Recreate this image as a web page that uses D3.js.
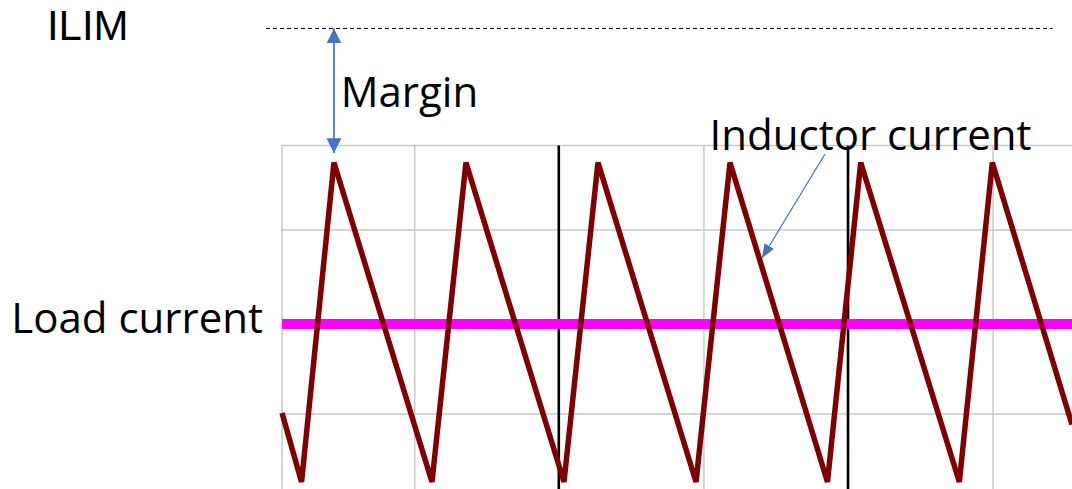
<!DOCTYPE html>
<html>
<head>
<meta charset="utf-8">
<script src="https://cdn.jsdelivr.net/npm/d3@7"></script>
<style>
  html, body { margin: 0; padding: 0; background: #fff; }
  svg { display: block; }
  text { font-family: "Open Sans", "Noto Sans", sans-serif; fill: #000; }
</style>
</head>
<body>
<svg id="chart" width="1072" height="489"></svg>
<script>
// ---- data (time in switching-grid units, current in grid units) ----
const timeGrid = [1, 2, 3, 4, 5];          // vertical gray gridlines
const currentGrid = [0, 1, 2];             // horizontal gray gridlines
const clockMarks = [2, 4];                 // black vertical markers
const plotTime = [0.086, 5.549];           // visible time range
const plotCurrent = [-0.826, 2.913];       // visible current range

const inductorTime = [0.086, 0.221, 0.445, 1.123, 1.358, 2.036, 2.271, 2.949, 3.184, 3.858, 4.088, 4.770, 4.998, 5.549];
const inductorCurrent = [0.005, -0.745, 2.728, -0.745, 2.728, -0.745, 2.728, -0.745, 2.728, -0.745, 2.728, -0.745, 2.728, -0.12];

const loadCurrent = 0.973;
const ilim = 4.185;
const ilimTime = [-0.025, 5.415];
const marginArrow = { t: 0.445, from: 4.185, to: 2.83 };
const inductorPointer = { t1: 3.841, v1: 2.821, t2: 3.405, v2: 1.69 };

const labelTexts = ["ILIM", "Margin", "Inductor current", "Load current"];
const labelTime = [-1.540, 0.492, 3.043, -1.786];
const labelCurrent = [4.06, 3.33, 2.865, 0.875];

// ---- drawing ----
(function () {
const svg = d3.select("#chart");
const x = d3.scaleLinear().domain([0, 1]).range([269.6, 414.2]);
const y = d3.scaleLinear().domain([0, 1]).range([413.5, 321.5]);

const pLeft = x(plotTime[0]), pRight = x(plotTime[1]);
const pTop = y(plotCurrent[1]), pBottom = y(plotCurrent[0]);

const defs = svg.append("defs");
function arrowMarker(id, w, h) {
  defs.append("marker")
    .attr("id", id)
    .attr("markerUnits", "userSpaceOnUse")
    .attr("viewBox", `0 ${-w/2} ${h} ${w}`)
    .attr("refX", h).attr("refY", 0)
    .attr("markerWidth", h).attr("markerHeight", w)
    .attr("orient", "auto-start-reverse")
    .append("path")
    .attr("d", `M0,${-w/2}L${h},0L0,${w/2}Z`)
    .attr("fill", "#4472C4");
}
arrowMarker("arrowBig", 15, 15);
arrowMarker("arrowSmall", 11, 14);

// gridlines via axes
const gx = svg.append("g")
  .attr("transform", `translate(0,${pBottom})`)
  .call(d3.axisBottom(x).tickValues(timeGrid).tickSize(-(pBottom - pTop)).tickFormat(""));
gx.select(".domain").remove();
gx.selectAll("line").attr("stroke", "#c9c9c9").attr("stroke-width", 1.5);

const gy = svg.append("g")
  .attr("transform", `translate(${pLeft},0)`)
  .call(d3.axisLeft(y).tickValues(currentGrid).tickSize(-(pRight - pLeft)).tickFormat(""));
gy.select(".domain").remove();
gy.selectAll("line").attr("stroke", "#c9c9c9").attr("stroke-width", 1.5);

// plot border (top + left)
svg.append("path")
  .attr("d", `M${pLeft},${pBottom}L${pLeft},${pTop}L${pRight},${pTop}`)
  .attr("fill", "none").attr("stroke", "#c9c9c9").attr("stroke-width", 1.5);

// black clock markers
svg.selectAll(".clock").data(clockMarks).enter().append("line")
  .attr("x1", d => x(d)).attr("x2", d => x(d))
  .attr("y1", pTop).attr("y2", pBottom)
  .attr("stroke", "#000").attr("stroke-width", 2.6);

// load current
svg.append("line")
  .attr("x1", pLeft).attr("x2", pRight)
  .attr("y1", y(loadCurrent)).attr("y2", y(loadCurrent))
  .attr("stroke", "#ff00ff").attr("stroke-width", 10);

// inductor current
const series = inductorTime.map((t, i) => [t, inductorCurrent[i]]);
svg.append("path")
  .datum(series)
  .attr("d", d3.line().x(d => x(d[0])).y(d => y(d[1])))
  .attr("fill", "none")
  .attr("stroke", "#800000")
  .attr("stroke-width", 5.5)
  .attr("stroke-linejoin", "miter")
  .attr("stroke-miterlimit", 4);

// ILIM dashed line
svg.append("line")
  .attr("x1", x(ilimTime[0])).attr("x2", x(ilimTime[1]))
  .attr("y1", y(ilim)).attr("y2", y(ilim))
  .attr("stroke", "#000").attr("stroke-width", 1)
  .attr("stroke-dasharray", "4,3");

// margin arrow
svg.append("line")
  .attr("x1", x(marginArrow.t)).attr("x2", x(marginArrow.t))
  .attr("y1", y(marginArrow.from)).attr("y2", y(marginArrow.to))
  .attr("stroke", "#4472C4").attr("stroke-width", 1.7)
  .attr("marker-start", "url(#arrowBig)")
  .attr("marker-end", "url(#arrowBig)");

// inductor pointer
svg.append("line")
  .attr("x1", x(inductorPointer.t1)).attr("y1", y(inductorPointer.v1))
  .attr("x2", x(inductorPointer.t2)).attr("y2", y(inductorPointer.v2))
  .attr("stroke", "#4472C4").attr("stroke-width", 1.2)
  .attr("marker-end", "url(#arrowSmall)");

// labels
svg.selectAll(".lbl").data(labelTexts).enter().append("text")
  .attr("x", (d, i) => x(labelTime[i])).attr("y", (d, i) => y(labelCurrent[i]))
  .attr("font-size", 42)
  .style("font-family", (d, i) => i === 0 ? "'Liberation Sans', Arial, sans-serif" : null)
  .text(d => d);
})();
</script>
</body>
</html>
